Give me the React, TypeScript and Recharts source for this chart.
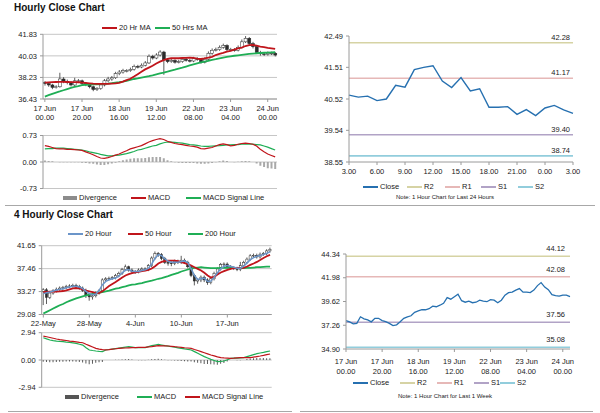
import React from 'react';
import { ComposedChart, LineChart, Line, Bar, XAxis, YAxis, CartesianGrid, ReferenceLine } from 'recharts';

const FONT = '"Liberation Sans Narrow", "Arial Narrow", "Liberation Sans", Arial, sans-serif';
const TITLE_FONT = '"Liberation Sans", Arial, sans-serif';

// ---------- Hourly (17 Jun 00.00 .. 24 Jun, 2-hour steps) ----------
const hourlyTickLabels = ['17 Jun|00.00', '17 Jun|20.00', '18 Jun|16.00', '19 Jun|12.00', '22 Jun|08.00', '23 Jun|04.00', '24 Jun|00.00'];
const hourlyClose = [37.72, 37.6, 37.4, 37.45, 38.1, 37.9, 37.8, 37.6, 37.95, 37.95,
  37.72, 37.62, 37.45, 37.22, 37.3, 37.6, 37.95, 38.1, 38.2, 38.55,
  38.68, 38.8, 38.8, 38.9, 39.15, 39.1, 39.25, 39.44, 40.0, 39.85,
  40.1, 40.35, 39.7, 39.55, 39.65, 39.5, 39.55, 39.75, 39.65, 39.6,
  39.8, 39.75, 39.5, 39.75, 40.25, 40.5, 40.55, 40.75, 40.9, 40.55,
  40.55, 40.5, 40.75, 41.2, 41.5, 41.05, 40.8, 40.3, 40.2, 40.15,
  40.25, 40.25, 40.1];
const hourlyOpen = [37.8, 37.72, 37.6, 37.4, 37.45, 38.1, 37.9, 37.8, 37.6, 37.95,
  37.95, 37.72, 37.62, 37.45, 37.22, 37.3, 37.6, 37.95, 38.1, 38.2,
  38.55, 38.68, 38.8, 38.8, 38.9, 39.15, 39.1, 39.25, 39.44, 40.0,
  39.85, 40.1, 40.35, 39.7, 39.55, 39.65, 39.5, 39.55, 39.75, 39.65,
  39.6, 39.8, 39.75, 39.5, 39.75, 40.25, 40.5, 40.55, 40.75, 40.9,
  40.55, 40.55, 40.5, 40.75, 41.2, 41.5, 41.05, 40.8, 40.3, 40.2,
  40.15, 40.25, 40.25];
const hourlyHigh = [37.92, 37.82, 37.7, 37.58, 38.62, 38.25, 38.05, 37.92, 38.2, 38.1,
  38.05, 37.85, 37.72, 37.55, 37.42, 37.72, 38.1, 38.28, 38.35, 38.7,
  38.85, 38.95, 38.92, 39.05, 39.3, 39.28, 39.4, 39.6, 40.15, 40.12,
  40.25, 40.5, 40.45, 39.85, 39.8, 39.75, 39.7, 39.9, 39.85, 39.78,
  39.95, 39.92, 39.85, 39.9, 40.4, 40.65, 40.72, 40.9, 41.05, 41.0,
  40.7, 40.68, 40.9, 41.4, 41.68, 41.6, 41.2, 40.92, 40.45, 40.32,
  40.4, 40.38, 40.35];
const hourlyLow = [37.55, 37.45, 37.25, 37.3, 37.38, 37.75, 37.65, 37.48, 37.5, 37.8,
  37.6, 37.5, 37.32, 37.08, 37.1, 37.2, 37.48, 37.82, 37.95, 38.1,
  38.42, 38.55, 38.65, 38.7, 38.8, 38.98, 39.0, 39.15, 39.35, 39.72,
  39.75, 39.98, 38.45, 39.42, 39.45, 39.38, 39.4, 39.45, 39.55, 39.48,
  39.5, 39.62, 39.38, 39.4, 39.65, 40.12, 40.4, 40.45, 40.62, 40.42,
  40.42, 40.38, 40.4, 40.65, 41.1, 40.92, 40.65, 40.18, 40.05, 40.02,
  40.05, 40.1, 39.98];
const ma20Hr = [37.8, 37.82, 37.84, 37.85, 37.86, 37.86, 37.85, 37.84, 37.84, 37.83,
  37.8, 37.77, 37.74, 37.71, 37.69, 37.69, 37.69, 37.7, 37.72, 37.74,
  37.78, 37.88, 38.0, 38.12, 38.3, 38.5, 38.7, 38.9, 39.05, 39.2,
  39.4, 39.55, 39.68, 39.78, 39.83, 39.83, 39.83, 39.85, 39.87, 39.88,
  39.86, 39.8, 39.77, 39.82, 39.88, 39.95, 40.1, 40.2, 40.28, 40.38,
  40.45, 40.55, 40.65, 40.72, 40.85, 40.93, 40.94, 40.88, 40.8, 40.76,
  40.7, 40.66, 40.61];
const ma50Hr = [36.63, 36.75, 36.86, 36.97, 37.06, 37.16, 37.26, 37.36, 37.44, 37.5,
  37.58, 37.62, 37.64, 37.65, 37.66, 37.68, 37.7, 37.72, 37.75, 37.8,
  37.83, 37.88, 37.95, 38.03, 38.1, 38.15, 38.22, 38.28, 38.33, 38.4,
  38.48, 38.56, 38.63, 38.71, 38.8, 38.88, 38.97, 39.05, 39.14, 39.23,
  39.32, 39.41, 39.48, 39.55, 39.62, 39.69, 39.75, 39.82, 39.88, 39.94,
  39.99, 40.04, 40.08, 40.12, 40.16, 40.19, 40.22, 40.25, 40.27, 40.29,
  40.3, 40.32, 40.33];
const macdHr = [0.45, 0.43, 0.4, 0.37, 0.36, 0.36, 0.35, 0.35, 0.34, 0.33,
  0.32, 0.28, 0.24, 0.2, 0.15, 0.11, 0.1, 0.12, 0.15, 0.19,
  0.22, 0.27, 0.31, 0.36, 0.39, 0.42, 0.45, 0.5, 0.55, 0.59,
  0.62, 0.645, 0.62, 0.57, 0.54, 0.51, 0.49, 0.48, 0.46, 0.44,
  0.43, 0.41, 0.37, 0.36, 0.38, 0.4, 0.44, 0.48, 0.5, 0.48,
  0.445, 0.46, 0.49, 0.51, 0.52, 0.51, 0.49, 0.44, 0.35, 0.28,
  0.22, 0.18, 0.14];
const signalHr = [0.36, 0.37, 0.37, 0.38, 0.38, 0.38, 0.37, 0.36, 0.35, 0.34,
  0.33, 0.31, 0.28, 0.26, 0.24, 0.21, 0.19, 0.17, 0.17, 0.18,
  0.19, 0.21, 0.23, 0.26, 0.29, 0.33, 0.35, 0.38, 0.41, 0.44,
  0.46, 0.5, 0.53, 0.55, 0.55, 0.54, 0.53, 0.52, 0.5, 0.48,
  0.47, 0.46, 0.44, 0.43, 0.43, 0.44, 0.445, 0.45, 0.46, 0.47,
  0.47, 0.48, 0.48, 0.49, 0.49, 0.49, 0.49, 0.48, 0.47, 0.44,
  0.41, 0.37, 0.33];
const divHr = [0.04, 0.03, 0.02, 0.0, -0.01, -0.01, -0.01, -0.01, -0.01, -0.01,
  -0.02, -0.03, -0.04, -0.05, -0.07, -0.08, -0.08, -0.06, -0.04, -0.02,
  0.02, 0.05, 0.07, 0.09, 0.1, 0.1, 0.1, 0.11, 0.13, 0.14,
  0.14, 0.14, 0.1, 0.05, 0.02, -0.01, -0.02, -0.03, -0.03, -0.03,
  -0.03, -0.04, -0.05, -0.05, -0.04, -0.03, -0.01, 0.02, 0.04, 0.03,
  0.0, -0.01, 0.01, 0.02, 0.03, 0.02, 0.0, -0.04, -0.1, -0.14,
  -0.17, -0.18, -0.19];

// ---------- Last 24 hours ----------
const dayHours = ['3.00', '4.00', '5.00', '6.00', '7.00', '8.00', '9.00', '10.00', '11.00', '12.00', '13.00', '14.00', '15.00',
  '16.00', '17.00', '18.00', '19.00', '20.00', '21.00', '22.00', '23.00', '0.00', '1.00', '2.00', '3.00'];
const dayClose = [40.64, 40.58, 40.61, 40.47, 40.52, 40.95, 40.89, 41.44, 41.51, 41.56, 41.08, 40.88, 41.19,
  40.77, 40.84, 40.26, 40.26, 40.28, 40.04, 40.19, 40.0, 40.24, 40.32, 40.18, 40.07];
const dayLevelNames = ['R2', 'R1', 'S1', 'S2'];
const dayLevels = [42.28, 41.17, 39.4, 38.74];
const weekLevels = [44.12, 42.08, 37.56, 35.08];
const levelColors = ['#d6d3a4', '#e6b8b7', '#b1a3c6', '#92cddc'];

// ---------- 4 hourly (22 May .. 22 Jun) ----------
const fourTickLabels = ['22-May', '28-May', '4-Jun', '10-Jun', '17-Jun'];
const fourClose = [33.6, 32.2, 33.0, 33.4, 33.7, 33.9, 34.0, 34.2, 34.3, 34.4,
  34.2, 33.9, 33.5, 32.6, 32.3, 32.5, 33.0, 33.4, 35.4, 35.6,
  35.7, 35.8, 36.2, 36.6, 37.3, 37.8, 37.2, 36.9, 36.9, 37.2,
  37.4, 37.3, 38.0, 39.4, 40.2, 40.0, 39.3, 38.6, 38.5, 38.4,
  38.8, 38.6, 39.0, 38.6, 37.8, 36.2, 35.2, 35.4, 35.9, 35.4,
  34.9, 35.6, 36.6, 37.4, 38.2, 38.3, 37.8, 37.6, 37.5, 37.3,
  38.0, 38.6, 39.2, 39.8, 39.9, 39.6, 40.1, 40.2, 40.7, 41.0];
const fourOpen = [33.3, 33.6, 32.2, 33.0, 33.4, 33.7, 33.9, 34.0, 34.2, 34.3,
  34.4, 34.2, 33.9, 33.5, 32.6, 32.3, 32.5, 33.0, 33.4, 35.4,
  35.6, 35.7, 35.8, 36.2, 36.6, 37.3, 37.8, 37.2, 36.9, 36.9,
  37.2, 37.4, 37.3, 38.0, 39.4, 40.2, 40.0, 39.3, 38.6, 38.5,
  38.4, 38.8, 38.6, 39.0, 38.6, 37.8, 36.2, 35.2, 35.4, 35.9,
  35.4, 34.9, 35.6, 36.6, 37.4, 38.2, 38.3, 37.8, 37.6, 37.5,
  37.3, 38.0, 38.6, 39.2, 39.8, 39.9, 39.6, 40.1, 40.2, 40.7];
const fourHigh = [33.9, 33.9, 33.3, 33.7, 34.0, 34.2, 34.3, 34.5, 34.6, 34.7,
  34.7, 34.5, 34.2, 33.8, 32.9, 32.8, 33.3, 33.7, 35.7, 35.9,
  36.0, 36.1, 36.5, 36.9, 37.6, 38.2, 38.0, 37.5, 37.2, 37.5,
  37.7, 37.7, 38.3, 39.7, 40.6, 40.5, 40.3, 39.6, 38.9, 38.8,
  39.1, 39.1, 39.8, 39.3, 38.9, 38.1, 36.5, 35.7, 36.2, 36.2,
  35.7, 35.9, 36.9, 37.7, 38.5, 38.6, 38.6, 38.1, 37.9, 37.8,
  38.7, 38.9, 39.5, 40.1, 40.2, 40.2, 40.4, 40.5, 41.0, 41.3];
const fourLow = [30.8, 31.0, 31.9, 32.7, 33.1, 33.4, 33.6, 33.7, 33.9, 34.0,
  33.9, 33.6, 33.2, 32.1, 31.6, 31.8, 32.2, 32.7, 33.1, 35.1,
  35.3, 35.4, 35.5, 35.9, 36.3, 37.0, 36.9, 36.6, 36.5, 36.6,
  36.9, 37.0, 37.0, 37.7, 39.1, 39.6, 39.0, 38.3, 38.0, 37.9,
  38.1, 38.3, 38.3, 38.3, 37.5, 35.9, 34.4, 34.7, 35.0, 35.0,
  34.5, 34.6, 35.3, 36.3, 37.1, 37.9, 37.5, 37.3, 37.2, 37.0,
  37.0, 37.7, 38.3, 38.9, 39.5, 39.3, 39.3, 39.8, 39.9, 40.4];
const ma20Four = [32.89, 33.07, 33.19, 33.37, 33.55, 33.67, 33.8, 33.98, 34.1, 34.22,
  34.22, 34.1, 33.8, 33.31, 32.89, 32.71, 32.83, 33.49, 34.52, 35.12,
  35.43, 35.61, 35.73, 36.09, 36.7, 37.18, 37.3, 37.0, 36.94, 36.94,
  37.12, 37.24, 37.54, 38.33, 39.35, 40.02, 39.84, 39.23, 38.81, 38.63,
  38.63, 38.63, 38.75, 38.87, 38.51, 37.42, 36.21, 35.49, 35.61, 35.73,
  35.12, 35.18, 35.91, 36.7, 37.42, 37.9, 38.02, 37.9, 37.72, 37.54,
  37.54, 37.9, 38.51, 39.11, 39.47, 39.72, 39.84, 40.02, 40.26, 40.56];
const ma50Four = [33.19, 33.19, 33.25, 33.25, 33.25, 33.31, 33.37, 33.49, 33.67, 33.86,
  33.92, 33.86, 33.67, 33.43, 33.31, 33.19, 32.95, 33.01, 33.31, 33.8,
  34.28, 34.64, 35.0, 35.43, 35.85, 36.21, 36.45, 36.63, 36.76, 36.88,
  37.0, 37.12, 37.24, 37.48, 37.9, 38.39, 38.69, 38.87, 38.93, 38.93,
  38.93, 38.81, 38.63, 38.45, 38.27, 38.02, 37.72, 37.42, 37.12, 36.7,
  36.21, 35.85, 35.97, 36.39, 36.76, 37.0, 37.24, 37.42, 37.54, 37.6,
  37.6, 37.6, 37.84, 38.15, 38.39, 38.69, 39.05, 39.41, 39.72, 39.96];
const ma200Four = [29.26, 29.56, 29.87, 30.17, 30.47, 30.77, 31.0, 31.32, 31.56, 31.8,
  32.04, 32.22, 32.41, 32.59, 32.71, 32.83, 32.89, 33.07, 33.19, 33.31,
  33.43, 33.61, 33.8, 33.92, 34.1, 34.22, 34.4, 34.52, 34.58, 34.7,
  34.82, 35.0, 35.12, 35.25, 35.43, 35.61, 35.73, 35.91, 36.09, 36.33,
  36.51, 36.7, 36.94, 37.12, 37.3, 37.48, 37.6, 37.66, 37.72, 37.66,
  37.6, 37.54, 37.54, 37.54, 37.6, 37.6, 37.6, 37.6, 37.6, 37.54,
  37.54, 37.54, 37.6, 37.6, 37.66, 37.72, 37.72, 37.78, 37.84, 37.84];
const macdFour = [2.4, 2.27, 2.15, 2.09, 2.04, 2.0, 1.97, 1.93, 1.9, 1.85,
  1.79, 1.7, 1.61, 1.33, 1.08, 1.02, 0.97, 0.93, 0.9, 1.08,
  1.13, 1.18, 1.23, 1.28, 1.33, 1.38, 1.43, 1.38, 1.33, 1.33,
  1.33, 1.33, 1.44, 1.54, 1.61, 1.68, 1.61, 1.54, 1.49, 1.43,
  1.37, 1.31, 1.25, 1.19, 1.14, 1.08, 0.9, 0.72, 0.54, 0.36,
  0.22, 0.07, -0.05, -0.18, -0.15, -0.11, 0.03, 0.18, 0.2, 0.21,
  0.23, 0.25, 0.36, 0.47, 0.58, 0.68, 0.75, 0.82, 0.9, 0.97];
const signalFour = [2.58, 2.5, 2.42, 2.34, 2.26, 2.2, 2.15, 2.1, 2.04, 2.0,
  1.95, 1.9, 1.86, 1.7, 1.55, 1.4, 1.25, 1.18, 1.12, 1.08,
  1.12, 1.17, 1.21, 1.25, 1.27, 1.29, 1.31, 1.33, 1.34, 1.35,
  1.35, 1.36, 1.41, 1.45, 1.5, 1.54, 1.53, 1.52, 1.51, 1.47,
  1.43, 1.4, 1.36, 1.32, 1.29, 1.25, 1.13, 1.02, 0.9, 0.78,
  0.66, 0.54, 0.44, 0.34, 0.25, 0.22, 0.2, 0.18, 0.2, 0.23,
  0.25, 0.25, 0.25, 0.25, 0.31, 0.37, 0.43, 0.5, 0.58, 0.65];
const divFour = [-0.18, -0.22, -0.25, -0.25, -0.22, -0.2, -0.18, -0.17, -0.15, -0.15,
  -0.18, -0.22, -0.26, -0.37, -0.45, -0.4, -0.3, -0.25, -0.22, 0.0,
  0.01, 0.01, 0.02, 0.03, 0.06, 0.08, 0.1, 0.05, -0.01, -0.02,
  -0.02, -0.03, 0.03, 0.09, 0.11, 0.14, 0.08, 0.02, -0.02, -0.04,
  -0.06, -0.09, -0.11, -0.13, -0.15, -0.17, -0.23, -0.3, -0.36, -0.42,
  -0.44, -0.47, -0.49, -0.52, -0.4, -0.33, -0.17, 0.0, 0.0, -0.02,
  -0.02, 0.0, 0.11, 0.16, 0.2, 0.22, 0.22, 0.22, 0.2, 0.2];

// ---------- tables for the library ----------
const hourlyData = hourlyClose.map((c, i) => ({
  i, o: hourlyOpen[i], hi: hourlyHigh[i], lo: hourlyLow[i], c,
  ma20: ma20Hr[i], ma50: ma50Hr[i], macd: macdHr[i], sig: signalHr[i], div: divHr[i],
}));
const dayData = dayClose.map((c, i) => ({ i, c }));
const fourData = fourClose.map((c, i) => ({
  i, o: fourOpen[i], hi: fourHigh[i], lo: fourLow[i], c,
  ma20: ma20Four[i], ma50: ma50Four[i], ma200: ma200Four[i],
  macd: macdFour[i], sig: signalFour[i], div: divFour[i],
}));

const hourlyLabelMap: Record<number, string> = {};
hourlyTickLabels.forEach((l, k) => { hourlyLabelMap[k * 10] = l; });
const dayLabelMap: Record<number, string> = {};
dayHours.forEach((l, k) => { if (k % 3 === 0) dayLabelMap[k] = l; });
const fourLabelMap: Record<number, string> = {};
fourTickLabels.forEach((l, k) => { fourLabelMap[k * 14] = l; });

const AX = '#9a9a9a';
const GRID = '#c6c6c6';
const TXT = '#1a1a1a';
const RED = '#c0151b';
const GREEN = '#1fae55';
const yTick = { fontSize: 7.5, fill: TXT, fontFamily: FONT };

const makeTick = (labels: Record<number, string>, dy1: number, dy2: number) => (props: any) => {
  const { x, y, payload } = props;
  const lab = labels[payload.value];
  if (lab === undefined) return <g />;
  const parts = lab.split('|');
  return (
    <text x={x} y={y} textAnchor="middle" fontSize={7.5} fontFamily={FONT} fill={TXT}>
      {parts.map((p, k) => (
        <tspan key={k} x={x} dy={k === 0 ? dy1 : dy2}>{p}</tspan>
      ))}
    </text>
  );
};

const Candle = (props: any) => {
  const { x, y, width, height, payload } = props;
  if (x == null || y == null) return <g />;
  const top = Math.min(y, y + height);
  const h = Math.abs(height);
  const { o, hi, lo, c } = payload;
  const span = hi - lo || 1;
  const py = (v: number) => top + ((hi - v) / span) * h;
  const cx = x + width / 2;
  const bw = Math.max(1.5, width * 0.75);
  const bTop = py(Math.max(o, c));
  const bBot = py(Math.min(o, c));
  const up = c >= o;
  return (
    <g>
      <line x1={cx} x2={cx} y1={top} y2={top + h} stroke="#333" strokeWidth={0.8} />
      <rect x={cx - bw / 2} y={bTop} width={bw} height={Math.max(0.8, bBot - bTop)}
        fill={up ? '#ffffff' : '#2b2b2b'} stroke="#2b2b2b" strokeWidth={0.5} />
    </g>
  );
};

type LItem = { label: string; color: string; kind: 'line' | 'box'; x: number; w?: number };
const LegendRow = ({ y, items }: { y: number; items: LItem[] }) => (
  <>
    {items.map((it) => (
      <div key={it.label} style={{ position: 'absolute', left: it.x, top: y - 5, height: 10, display: 'flex', alignItems: 'center', whiteSpace: 'nowrap' }}>
        <div style={{ width: it.w ?? 15, height: it.kind === 'box' ? 4 : 2, background: it.color, marginRight: 2 }} />
        <span style={{ fontFamily: FONT, fontSize: 7.5, color: TXT, lineHeight: '10px' }}>{it.label}</span>
      </div>
    ))}
  </>
);

const fmt2 = (v: number) => v.toFixed(2);

export default function App() {
  return (
    <div style={{ position: 'absolute', left: 0, top: 0, width: 600, height: 413, background: '#fff', overflow: 'hidden' }}>
      {/* Titles */}
      <div style={{ position: 'absolute', left: 14, top: 2, fontFamily: TITLE_FONT, fontWeight: 'bold', fontSize: 10, color: '#111' }}>Hourly Close Chart</div>
      <div style={{ position: 'absolute', left: 14, top: 209, fontFamily: TITLE_FONT, fontWeight: 'bold', fontSize: 10, color: '#111' }}>4 Hourly Close Chart</div>

      {/* Dividers */}
      <div style={{ position: 'absolute', left: 5, top: 205, width: 590, height: 1, background: '#a8a8a8' }} />
      <div style={{ position: 'absolute', left: 8, top: 411, width: 284, height: 1, background: '#a8a8a8' }} />
      <div style={{ position: 'absolute', left: 300, top: 411, width: 293, height: 1, background: '#a8a8a8' }} />

      {/* Hourly candles */}
      <LegendRow y={28} items={[
        { label: '20 Hr MA', color: RED, kind: 'line', x: 102 },
        { label: '50 Hrs MA', color: GREEN, kind: 'line', x: 155 },
      ]} />
      <div style={{ position: 'absolute', left: 0, top: 0 }}>
        <ComposedChart width={290} height={125} data={hourlyData} margin={{ top: 34.3, right: 13, left: 0, bottom: 2 }} barCategoryGap={0}>
          <CartesianGrid horizontal vertical={false} stroke={GRID} />
          <XAxis dataKey="i" type="category" interval={9} height={24} tickSize={3} tickMargin={2}
            stroke={AX} tick={makeTick(hourlyLabelMap, 6.5, 9)} />
          <YAxis width={43} domain={[36.43, 41.83]} ticks={[36.43, 38.23, 40.03, 41.83]} interval={0}
            tickFormatter={fmt2} tick={yTick} tickSize={3} tickMargin={3} stroke={AX} allowDataOverflow />
          <Bar dataKey={(d: any) => [d.lo, d.hi]} shape={Candle} isAnimationActive={false} />
          <Line dataKey="ma50" stroke={GREEN} strokeWidth={1.8} dot={false} isAnimationActive={false} />
          <Line dataKey="ma20" stroke={RED} strokeWidth={1.8} dot={false} isAnimationActive={false} />
        </ComposedChart>
      </div>

      {/* Hourly MACD */}
      <div style={{ position: 'absolute', left: 0, top: 125 }}>
        <ComposedChart width={290} height={70} data={hourlyData} margin={{ top: 10.5, right: 13, left: 0, bottom: 6.5 }} barCategoryGap="25%">
          <CartesianGrid horizontal vertical={false} stroke={GRID} />
          <XAxis dataKey="i" type="category" hide />
          <YAxis width={43} domain={[-0.73, 0.73]} ticks={[-0.73, 0, 0.73]} interval={0}
            tickFormatter={fmt2} tick={yTick} tickSize={3} tickMargin={3} stroke={AX} allowDataOverflow />
          <Bar dataKey="div" fill="#a9a9a9" isAnimationActive={false} />
          <Line dataKey="sig" stroke={GREEN} strokeWidth={1.2} dot={false} isAnimationActive={false} />
          <Line dataKey="macd" stroke={RED} strokeWidth={1.2} dot={false} isAnimationActive={false} />
        </ComposedChart>
      </div>
      <LegendRow y={198} items={[
        { label: 'Divergence', color: '#8c8c8c', kind: 'box', x: 63, w: 14 },
        { label: 'MACD', color: RED, kind: 'line', x: 131 },
        { label: 'MACD Signal Line', color: GREEN, kind: 'line', x: 186 },
      ]} />

      {/* Last 24 hours */}
      <div style={{ position: 'absolute', left: 300, top: 0 }}>
        <LineChart width={300} height={182} data={dayData} margin={{ top: 36, right: 27, left: 0, bottom: 2 }}>
          <XAxis dataKey="i" type="category" interval={2} height={18} tickSize={3} tickMargin={2}
            stroke={AX} tick={makeTick(dayLabelMap, 7.2, 0)} />
          <YAxis width={49} domain={[38.55, 42.49]} ticks={[38.55, 39.54, 40.52, 41.51, 42.49]} interval={0}
            tickFormatter={fmt2} tick={yTick} tickSize={3} tickMargin={3} stroke={AX} allowDataOverflow />
          {dayLevels.map((v, k) => (
            <ReferenceLine key={dayLevelNames[k]} y={v} stroke={levelColors[k]} strokeWidth={1.6}
              label={{ value: fmt2(v), position: 'insideBottomRight', offset: 3, fontSize: 7.5, fill: TXT, fontFamily: FONT }} />
          ))}
          <Line dataKey="c" stroke="#2670b0" strokeWidth={1.4} dot={false} isAnimationActive={false} />
        </LineChart>
      </div>
      <LegendRow y={187} items={[
        { label: 'Close', color: '#2670b0', kind: 'line', x: 363 },
        { label: 'R2', color: levelColors[0], kind: 'line', x: 407 },
        { label: 'R1', color: levelColors[1], kind: 'line', x: 445 },
        { label: 'S1', color: levelColors[2], kind: 'line', x: 481 },
        { label: 'S2', color: levelColors[3], kind: 'line', x: 518 },
      ]} />
      <div style={{ position: 'absolute', left: 300, width: 290, top: 194, textAlign: 'center', fontFamily: FONT, fontSize: 6, color: TXT }}>
        Note: 1 Hour Chart for Last 24 Hours
      </div>

      {/* 4 hourly candles */}
      <LegendRow y={234} items={[
        { label: '20 Hour', color: '#6b95c9', kind: 'line', x: 68 },
        { label: '50 Hour', color: RED, kind: 'line', x: 128 },
        { label: '200 Hour', color: GREEN, kind: 'line', x: 188 },
      ]} />
      <div style={{ position: 'absolute', left: 0, top: 225 }}>
        <ComposedChart width={290} height={105} data={fourData} margin={{ top: 20.7, right: 18.3, left: 0, bottom: 1.5 }} barCategoryGap={0}>
          <CartesianGrid horizontal vertical={false} stroke={GRID} />
          <XAxis dataKey="i" type="category" interval={13} height={14} tickSize={3} tickMargin={2}
            stroke={AX} tick={makeTick(fourLabelMap, 6, 0)} />
          <YAxis width={41.7} domain={[29.08, 41.65]} ticks={[29.08, 33.27, 37.46, 41.65]} interval={0}
            tickFormatter={fmt2} tick={yTick} tickSize={3} tickMargin={3} stroke={AX} allowDataOverflow />
          <Bar dataKey={(d: any) => [d.lo, d.hi]} shape={Candle} isAnimationActive={false} />
          <Line dataKey="ma200" stroke={GREEN} strokeWidth={1.8} dot={false} isAnimationActive={false} />
          <Line dataKey="ma50" stroke={RED} strokeWidth={1.8} dot={false} isAnimationActive={false} />
          <Line dataKey="ma20" stroke="#6b95c9" strokeWidth={1.5} dot={false} isAnimationActive={false} />
        </ComposedChart>
      </div>

      {/* 4 hourly MACD */}
      <div style={{ position: 'absolute', left: 0, top: 322 }}>
        <ComposedChart width={290} height={70} data={fourData} margin={{ top: 10.7, right: 18.3, left: 0, bottom: 4.7 }} barCategoryGap="30%">
          <CartesianGrid horizontal vertical={false} stroke={GRID} />
          <XAxis dataKey="i" type="category" hide />
          <YAxis width={41.7} domain={[-2.94, 2.94]} ticks={[-2.94, 0, 2.94]} interval={0}
            tickFormatter={fmt2} tick={yTick} tickSize={3} tickMargin={3} stroke={AX} allowDataOverflow />
          <Bar dataKey="div" fill="#5a5a5a" isAnimationActive={false} />
          <Line dataKey="macd" stroke={GREEN} strokeWidth={1.2} dot={false} isAnimationActive={false} />
          <Line dataKey="sig" stroke={RED} strokeWidth={1.2} dot={false} isAnimationActive={false} />
        </ComposedChart>
      </div>
      <LegendRow y={397} items={[
        { label: 'Divergence', color: '#555555', kind: 'box', x: 65, w: 14 },
        { label: 'MACD', color: GREEN, kind: 'line', x: 137 },
        { label: 'MACD Signal Line', color: RED, kind: 'line', x: 185 },
      ]} />

      {/* Last 1 week */}
      <div style={{ position: 'absolute', left: 300, top: 225 }}>
        <LineChart width={300} height={153} data={hourlyData} margin={{ top: 29, right: 30, left: 0, bottom: 2 }}>
          <XAxis dataKey="i" type="category" interval={9} height={27} tickSize={3} tickMargin={2}
            stroke={AX} tick={makeTick(hourlyLabelMap, 9.5, 10)} />
          <YAxis width={46} domain={[34.9, 44.34]} ticks={[34.9, 37.26, 39.62, 41.98, 44.34]} interval={0}
            tickFormatter={fmt2} tick={yTick} tickSize={3} tickMargin={3} stroke={AX} allowDataOverflow />
          {weekLevels.map((v, k) => (
            <ReferenceLine key={dayLevelNames[k]} y={v} stroke={levelColors[k]} strokeWidth={1.6}
              label={{ value: fmt2(v), position: 'insideBottomRight', offset: 5, fontSize: 7.5, fill: TXT, fontFamily: FONT }} />
          ))}
          <Line dataKey="c" stroke="#2670b0" strokeWidth={1.3} dot={false} isAnimationActive={false} />
        </LineChart>
      </div>
      <LegendRow y={383} items={[
        { label: 'Close', color: '#2670b0', kind: 'line', x: 353 },
        { label: 'R2', color: levelColors[0], kind: 'line', x: 400 },
        { label: 'R1', color: levelColors[1], kind: 'line', x: 437 },
        { label: 'S1', color: levelColors[2], kind: 'line', x: 474 },
        { label: 'S2', color: levelColors[3], kind: 'line', x: 500 },
      ]} />
      <div style={{ position: 'absolute', left: 300, width: 290, top: 393, textAlign: 'center', fontFamily: FONT, fontSize: 6, color: TXT }}>
        Note: 1 Hour Chart for Last 1 Week
      </div>
    </div>
  );
}
